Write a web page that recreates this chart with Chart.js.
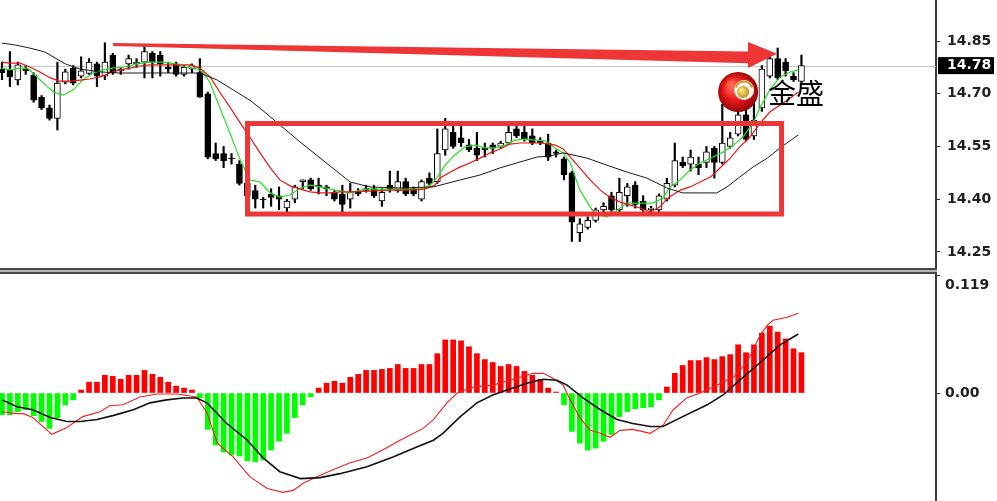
<!DOCTYPE html>
<html>
<head>
<meta charset="utf-8">
<script src="https://cdn.jsdelivr.net/npm/chart.js@4.4.1/dist/chart.umd.min.js"></script>
<style>
  html, body { margin: 0; padding: 0; background: #fff; }
  #wrap { position: relative; width: 997px; height: 501px; overflow: hidden; background: #fff; }
  canvas { position: absolute; left: 0; }
  #top { top: 0; }
  #bottom { top: 274px; }
  .sep { position: absolute; left: 0; width: 937px; }
</style>
</head>
<body>
<div id="wrap">
  <canvas id="top" width="997" height="268"></canvas>
  <div class="sep" style="top:268px;height:2px;background:#4a4a4a"></div>
  <div class="sep" style="top:270px;height:2px;background:#b4b4b4"></div>
  <div class="sep" style="top:272px;height:2px;background:#4a4a4a"></div>
  <canvas id="bottom" width="997" height="227"></canvas>
</div>
<script>
// candles, one per bar, oldest first
const opens = [14.77,14.768,14.739,14.77,14.753,14.69,14.66,14.63,14.733,14.773,
  14.75,14.758,14.785,14.75,14.81,14.765,14.785,14.785,14.79,14.815,
  14.81,14.776,14.785,14.755,14.77,14.76,14.70,14.53,14.53,14.517,
  14.50,14.445,14.425,14.40,14.415,14.41,14.375,14.40,14.45,14.455,
  14.44,14.435,14.42,14.415,14.40,14.42,14.43,14.43,14.395,14.44,
  14.425,14.45,14.43,14.40,14.46,14.45,14.54,14.59,14.575,14.555,
  14.545,14.545,14.555,14.55,14.56,14.60,14.59,14.58,14.565,14.56,
  14.535,14.515,14.475,14.305,14.32,14.34,14.37,14.41,14.37,14.41,
  14.44,14.395,14.37,14.37,14.40,14.44,14.505,14.50,14.50,14.505,
  14.545,14.505,14.55,14.585,14.64,14.58,14.66,14.75,14.80,14.79,
  14.75,14.735]
const highs = [14.79,14.82,14.79,14.78,14.76,14.695,14.668,14.79,14.77,14.78,
  14.805,14.80,14.79,14.845,14.815,14.775,14.81,14.80,14.84,14.82,
  14.82,14.79,14.79,14.78,14.785,14.80,14.705,14.56,14.55,14.53,
  14.51,14.45,14.44,14.405,14.43,14.435,14.40,14.44,14.455,14.46,
  14.46,14.44,14.425,14.44,14.445,14.43,14.44,14.44,14.43,14.48,
  14.48,14.46,14.435,14.455,14.475,14.60,14.63,14.61,14.61,14.57,
  14.59,14.56,14.56,14.565,14.61,14.62,14.61,14.60,14.575,14.585,
  14.54,14.52,14.48,14.345,14.35,14.375,14.39,14.42,14.46,14.445,
  14.45,14.41,14.38,14.415,14.46,14.56,14.52,14.54,14.52,14.55,
  14.55,14.67,14.59,14.665,14.67,14.70,14.78,14.81,14.83,14.80,
  14.76,14.81]
const lows = [14.74,14.72,14.725,14.755,14.676,14.655,14.625,14.597,14.728,14.725,
  14.745,14.755,14.72,14.74,14.755,14.755,14.77,14.775,14.745,14.745,
  14.75,14.76,14.75,14.75,14.76,14.69,14.515,14.51,14.49,14.50,
  14.44,14.40,14.375,14.375,14.38,14.37,14.36,14.39,14.43,14.425,
  14.415,14.41,14.395,14.36,14.375,14.41,14.42,14.405,14.38,14.42,
  14.42,14.41,14.41,14.395,14.44,14.445,14.525,14.545,14.55,14.535,
  14.51,14.52,14.53,14.545,14.555,14.575,14.565,14.555,14.555,14.51,
  14.52,14.455,14.28,14.28,14.315,14.335,14.36,14.365,14.365,14.38,
  14.375,14.365,14.36,14.365,14.395,14.435,14.49,14.48,14.47,14.49,
  14.46,14.50,14.545,14.58,14.565,14.57,14.65,14.745,14.74,14.75,
  14.735,14.73]
const closes = [14.76,14.748,14.782,14.765,14.682,14.66,14.63,14.73,14.762,14.73,
  14.765,14.79,14.75,14.79,14.76,14.77,14.80,14.79,14.82,14.79,
  14.785,14.77,14.755,14.775,14.78,14.69,14.52,14.515,14.51,14.515,
  14.445,14.41,14.40,14.398,14.405,14.40,14.395,14.435,14.455,14.43,
  14.435,14.43,14.40,14.385,14.42,14.415,14.425,14.41,14.42,14.43,
  14.45,14.415,14.415,14.45,14.445,14.53,14.60,14.55,14.56,14.54,
  14.525,14.54,14.545,14.56,14.59,14.58,14.57,14.56,14.56,14.52,
  14.53,14.47,14.335,14.33,14.34,14.37,14.38,14.37,14.42,14.435,
  14.385,14.37,14.375,14.41,14.445,14.51,14.495,14.52,14.49,14.535,
  14.505,14.56,14.575,14.64,14.57,14.625,14.77,14.80,14.745,14.765,
  14.74,14.78]

// moving averages as [bar, price]
const maGreen = [[0,14.773],[1,14.768],[2.3,14.773],[3.2,14.773],[3.9,14.759],[5.2,14.731],[6.5,14.705],[7.7,14.696],
  [9,14.711],[10.2,14.739],[11.5,14.759],[12.8,14.768],[14,14.773],[15.5,14.776],[17.1,14.785],[18.7,14.79],
  [20.3,14.79],[21.9,14.785],[23.1,14.776],[24.4,14.773],[25.4,14.762],[26.3,14.731],[27.5,14.662],[28.8,14.588],
  [30.1,14.512],[31.3,14.455],[32.6,14.449],[33.9,14.418],[35.1,14.406],[36.4,14.412],[37.7,14.432],[38.9,14.44],
  [40.2,14.435],[42.1,14.426],[44,14.418],[45.9,14.429],[47.8,14.429],[49.7,14.429],[51.5,14.429],[52.8,14.429],
  [54.1,14.44],[55,14.463],[56,14.497],[57.2,14.526],[58.5,14.549],[59.8,14.554],[61,14.546],[62.3,14.546],
  [63.6,14.554],[64.8,14.568],[66.1,14.571],[67.3,14.568],[68.6,14.566],[69.9,14.546],[70.9,14.532],[71.8,14.503],
  [73,14.426],[74.7,14.364],[76.4,14.349],[77.7,14.369],[79,14.389],[80.6,14.389],[82.2,14.389],[83.5,14.403],
  [84.4,14.435],[85.7,14.455],[86.9,14.483],[88.2,14.503],[89.8,14.52],[91.1,14.534],[92.4,14.554],[93.6,14.577],
  [94.9,14.617],[95.8,14.662],[97,14.711],[98.3,14.748],[99.6,14.762],[100.6,14.768]]
const maRed = [[0,14.79],[1,14.787],[2.3,14.787],[3.5,14.776],[4.8,14.762],[6.1,14.745],[7.3,14.736],[8.6,14.736],
  [9.9,14.739],[11.1,14.742],[12.4,14.748],[13.65,14.759],[14.9,14.768],[16.2,14.773],[17.4,14.779],[18.7,14.782],
  [21.2,14.782],[23.75,14.782],[25,14.773],[26.3,14.748],[27.5,14.705],[28.8,14.662],[30.1,14.617],[31.3,14.577],
  [32.6,14.532],[33.9,14.489],[35.1,14.455],[36.4,14.438],[37.7,14.429],[38.9,14.421],[40.2,14.418],[41.4,14.418],
  [42.7,14.421],[44,14.421],[46.5,14.423],[49,14.426],[51.5,14.426],[53.4,14.429],[54.7,14.44],[55.3,14.46],
  [56.6,14.477],[57.9,14.492],[59.1,14.503],[60.4,14.517],[61.7,14.532],[62.9,14.543],[64.2,14.557],[65.45,14.56],
  [68,14.56],[69.2,14.557],[69.9,14.554],[70.9,14.543],[71.8,14.52],[73,14.489],[74.3,14.455],[75.6,14.426],
  [76.8,14.406],[78.1,14.392],[79.3,14.384],[80.6,14.375],[81.9,14.364],[83.1,14.378],[84.1,14.403],[85.7,14.426],
  [86.9,14.435],[88.2,14.449],[89.5,14.463],[90.7,14.489],[92,14.517],[93.2,14.549],[94.5,14.577],[95.8,14.617],
  [97,14.648],[98.3,14.668],[99.6,14.688],[100.6,14.705]]
const maBlack = [[0,14.844],[1.6,14.839],[3.5,14.83],[5.4,14.819],[6.7,14.802],[8,14.785],[9.9,14.77],[12.4,14.762],
  [14.9,14.759],[18.7,14.759],[22.5,14.759],[25,14.759],[27.2,14.739],[29.2,14.711],[31.3,14.682],[32.6,14.659],
  [37.65,14.563],[44,14.449],[46.5,14.435],[50.3,14.432],[54.5,14.435],[57.9,14.455],[60.4,14.469],[62.9,14.489],
  [65.45,14.506],[67.6,14.52],[69.2,14.523],[70.9,14.532],[73.9,14.517],[76.4,14.497],[79,14.477],[81.5,14.46],
  [84,14.432],[86,14.418],[88.2,14.418],[90.3,14.418],[91.6,14.435],[93.2,14.463],[94.9,14.492],[96.7,14.517],
  [98.3,14.546],[100.6,14.583]]

// MACD panel
const macdHist = [-0.022,-0.022,-0.019,-0.017,-0.023,-0.029,-0.036,-0.025,-0.012,-0.007,
  0.003,0.011,0.011,0.018,0.017,0.014,0.018,0.018,0.023,0.019,
  0.016,0.011,0.007,0.005,0.003,-0.005,-0.037,-0.053,-0.060,-0.063,
  -0.064,-0.069,-0.070,-0.068,-0.058,-0.049,-0.041,-0.025,-0.012,-0.004,
  0.005,0.010,0.012,0.010,0.016,0.019,0.023,0.023,0.024,0.025,
  0.029,0.025,0.025,0.029,0.029,0.040,0.054,0.054,0.053,0.047,
  0.040,0.034,0.031,0.027,0.029,0.027,0.022,0.018,0.014,0.005,
  0.001,-0.012,-0.039,-0.051,-0.058,-0.056,-0.049,-0.042,-0.024,-0.019,
  -0.016,-0.015,-0.014,-0.007,0.006,0.020,0.028,0.033,0.033,0.036,
  0.034,0.037,0.039,0.049,0.041,0.049,0.061,0.068,0.062,0.055,
  0.045,0.041]
const macdFast = [[0,-0.019],[1.9,-0.021],[2.7,-0.021],[3.9,-0.025],[6.3,-0.042],[8.2,-0.035],[10.2,-0.024],[12.4,-0.019],
  [13.6,-0.013],[15.3,-0.012],[17.4,-0.004],[19.6,-0.001],[22.1,-0.001],[24.6,-0.004],[25.9,-0.02],[27.2,-0.051],
  [29.2,-0.065],[31.3,-0.085],[33.5,-0.097],[35.5,-0.101],[36.8,-0.099],[38,-0.092],[39.3,-0.087],[41.8,-0.078],
  [44,-0.071],[46.1,-0.066],[48.1,-0.058],[50.3,-0.048],[53.2,-0.036],[54.5,-0.027],[56.2,-0.01],[57.5,0],
  [59.5,0.006],[62,0.008],[64.6,0.014],[67.1,0.02],[68.4,0.02],[69.6,0.015],[70.9,0.008],[71.8,-0.007],
  [73,-0.025],[74.3,-0.038],[75.6,-0.041],[76.8,-0.045],[78.1,-0.038],[79.7,-0.037],[81.9,-0.041],[83.5,-0.033],
  [84.8,-0.017],[86.5,-0.005],[88.2,0],[90.3,0.008],[92.4,0.016],[94.1,0.031],[95.8,0.059],[96.7,0.069],
  [97.4,0.074],[99.2,0.077],[100.6,0.081]]
const macdSignal = [[0,-0.007],[1.9,-0.014],[3.9,-0.017],[6.1,-0.025],[8.2,-0.029],[9.9,-0.029],[12,-0.027],[14,-0.023],
  [16.6,-0.017],[18.7,-0.01],[20.8,-0.007],[22.9,-0.005],[24.6,-0.005],[25.9,-0.01],[28.4,-0.031],[31,-0.048],
  [33,-0.066],[35.1,-0.08],[37.7,-0.087],[40.2,-0.086],[42.7,-0.082],[46.1,-0.075],[49.4,-0.065],[52.4,-0.055],
  [54.5,-0.048],[55.7,-0.041],[57.9,-0.024],[60,-0.01],[62,-0.002],[63.8,0.003],[66.3,0.01],[68.4,0.014],
  [70.1,0.013],[71.4,0.008],[73.4,-0.005],[75.6,-0.017],[77.7,-0.027],[79.7,-0.031],[81.9,-0.034],[83.5,-0.034],
  [86,-0.024],[89.1,-0.012],[91.1,-0.002],[93.2,0.013],[95.8,0.031],[98.3,0.049],[100.6,0.06]]

const priceTicks = [14.25, 14.40, 14.55, 14.70, 14.85]
const macdTicks = [0, 0.119]
const lastPrice = 14.78

// annotation shapes, in bar / price units
const boxArea = {x1: 31.02, x2: 98.49, y1: 14.6154, y2: 14.358}
const arrowShaft = [[14.03, 14.844], [94.25, 14.82], [94.25, 14.787], [14.03, 14.836]]
const arrowHead = [[94.25, 14.847], [97.92, 14.814], [94.25, 14.773]]
const logoAt = {x: 93.0, y: 14.705}
const logoTextAt = {x: 96.78, y: 14.702}

const xMin = -0.25, xMax = 118
const axisFont = 'bold 14px "DejaVu Sans"'
const annotRed = '#ee3636'

const toXY = pts => pts.map(p => ({x: p[0], y: p[1]}))

function rightAxis(min, max, ticks) {
  return {
    position: 'right', min: min, max: max,
    afterBuildTicks: s => { s.ticks = ticks.map(v => ({value: v})) },
    afterFit: s => { s.width = 61 },
    ticks: {display: false},
    grid: {drawOnChartArea: false, drawTicks: true, tickLength: 4, tickColor: '#333', tickWidth: 1},
    border: {display: true, color: '#3a3a3a', width: 2}
  }
}

function poly(ctx, xs, ys, pts) {
  ctx.beginPath()
  pts.forEach((p, i) => {
    let px = xs.getPixelForValue(p[0]), py = ys.getPixelForValue(p[1])
    if (i === 0) ctx.moveTo(px, py)
    else ctx.lineTo(px, py)
  })
  ctx.closePath()
  ctx.fill()
}

const topOverlay = {
  id: 'topOverlay',
  beforeDatasetsDraw(chart) {
    const {ctx, chartArea, scales: {y}} = chart
    let py = Math.round(y.getPixelForValue(lastPrice)) + 0.5
    ctx.save()
    ctx.strokeStyle = '#c4c4c4'
    ctx.lineWidth = 1
    ctx.beginPath()
    ctx.moveTo(chartArea.left, py)
    ctx.lineTo(chartArea.right, py)
    ctx.stroke()
    ctx.restore()
  },
  afterDatasetsDraw(chart) {
    const {ctx, scales: {x, y}} = chart
    ctx.save()
    // box
    ctx.strokeStyle = annotRed
    ctx.lineWidth = 5
    let bx1 = x.getPixelForValue(boxArea.x1), bx2 = x.getPixelForValue(boxArea.x2)
    let by1 = y.getPixelForValue(boxArea.y1), by2 = y.getPixelForValue(boxArea.y2)
    ctx.strokeRect(bx1, by1, bx2 - bx1, by2 - by1)
    // arrow
    ctx.fillStyle = annotRed
    poly(ctx, x, y, arrowShaft)
    poly(ctx, x, y, arrowHead)
    // logo
    let cx = x.getPixelForValue(logoAt.x), cy = y.getPixelForValue(logoAt.y)
    let g = ctx.createRadialGradient(cx - 7, cy - 7, 2, cx, cy, 21)
    g.addColorStop(0, '#ff6a50')
    g.addColorStop(0.55, '#e31616')
    g.addColorStop(1, '#8c0606')
    ctx.fillStyle = g
    ctx.beginPath(); ctx.arc(cx, cy, 20, 0, Math.PI * 2); ctx.fill()
    ctx.fillStyle = '#fbf3f0'
    ctx.beginPath(); ctx.arc(cx + 6, cy - 2, 10, 0, Math.PI * 2); ctx.fill()
    ctx.strokeStyle = '#c9a227'
    ctx.lineWidth = 2
    ctx.beginPath(); ctx.arc(cx + 6, cy - 2, 8.5, Math.PI * 1.1, Math.PI * 1.9); ctx.stroke()
    let gb = ctx.createRadialGradient(cx + 3, cy - 2, 1, cx + 5, cy, 7)
    gb.addColorStop(0, '#ffe680')
    gb.addColorStop(1, '#b08a10')
    ctx.fillStyle = gb
    ctx.beginPath(); ctx.arc(cx + 5, cy, 6, 0, Math.PI * 2); ctx.fill()
    ctx.fillStyle = '#000'
    ctx.font = '28px "Noto Sans CJK SC"'
    ctx.textBaseline = 'middle'
    ctx.fillText('金盛', x.getPixelForValue(logoTextAt.x), y.getPixelForValue(logoTextAt.y))
    ctx.restore()
  },
  afterDraw(chart) {
    const {ctx, scales: {y}} = chart
    ctx.save()
    ctx.font = axisFont
    ctx.textBaseline = 'middle'
    ctx.fillStyle = '#202020'
    priceTicks.forEach(v => ctx.fillText(v.toFixed(2), y.left + 11, y.getPixelForValue(v)))
    let py = y.getPixelForValue(lastPrice)
    ctx.fillStyle = '#000'
    ctx.fillRect(y.left + 2, py - 8.5, 56, 17)
    ctx.fillStyle = '#fff'
    ctx.fillText(lastPrice.toFixed(2), y.left + 11, py)
    ctx.restore()
  }
}

const bottomOverlay = {
  id: 'bottomOverlay',
  afterDraw(chart) {
    const {ctx, scales: {y}} = chart
    ctx.save()
    ctx.font = axisFont
    ctx.textBaseline = 'middle'
    ctx.fillStyle = '#202020'
    macdTicks.forEach(v => {
      let py = Math.max(y.getPixelForValue(v), y.top + 11)
      ctx.fillText(v === 0 ? '0.00' : v.toFixed(3), y.left + 9, py)
    })
    ctx.restore()
  }
}

const bars = opens.map((_, i) => i)

new Chart(document.getElementById('top'), {
  type: 'bar',
  data: {
    datasets: [
      {type: 'line', data: toXY(maBlack), borderColor: '#1a1a1a', borderWidth: 1, pointRadius: 0, order: 0},
      {type: 'line', data: toXY(maRed), borderColor: '#f01414', borderWidth: 1.2, pointRadius: 0, order: 0},
      {type: 'line', data: toXY(maGreen), borderColor: '#22e022', borderWidth: 1.2, pointRadius: 0, order: 0},
      {
        data: bars.map(i => ({x: i, y: [opens[i], closes[i]]})),
        backgroundColor: bars.map(i => closes[i] >= opens[i] ? '#ffffff' : '#000000'),
        borderColor: '#000', borderWidth: 1, borderSkipped: false,
        barThickness: 6, grouped: false, order: 2
      },
      {
        data: bars.map(i => ({x: i, y: [lows[i], highs[i]]})),
        backgroundColor: '#000', borderWidth: 0,
        barThickness: 1.5, grouped: false, order: 3
      }
    ]
  },
  options: {
    responsive: false,
    animation: false,
    layout: {padding: 0},
    plugins: {legend: {display: false}, tooltip: {enabled: false}},
    scales: {
      x: {type: 'linear', min: xMin, max: xMax, offset: false, display: false},
      y: rightAxis(14.2045, 14.9666, priceTicks)
    }
  },
  plugins: [topOverlay]
})

new Chart(document.getElementById('bottom'), {
  type: 'bar',
  data: {
    datasets: [
      {type: 'line', data: toXY(macdSignal), borderColor: '#111', borderWidth: 1.6, pointRadius: 0, order: 0},
      {type: 'line', data: toXY(macdFast), borderColor: '#f02020', borderWidth: 1.1, pointRadius: 0, order: 1},
      {
        data: bars.map(i => ({x: i, y: macdHist[i]})),
        backgroundColor: bars.map(i => macdHist[i] >= 0 ? '#ff0000' : '#00ff00'),
        borderWidth: 0, barThickness: 5, grouped: false, order: 2
      }
    ]
  },
  options: {
    responsive: false,
    animation: false,
    layout: {padding: 0},
    plugins: {legend: {display: false}, tooltip: {enabled: false}},
    scales: {
      x: {type: 'linear', min: xMin, max: xMax, offset: false, display: false},
      y: rightAxis(-0.1098, 0.121, macdTicks)
    }
  },
  plugins: [bottomOverlay]
})
</script>
</body>
</html>
